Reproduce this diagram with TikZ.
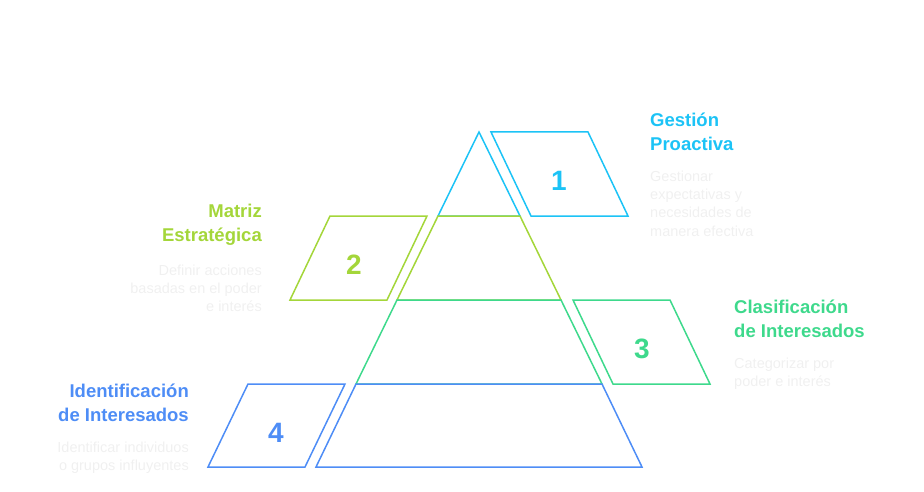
\documentclass[tikz,border=0pt]{standalone}
\usepackage{fontspec}
\setmainfont{Liberation Sans}
\definecolor{cA}{HTML}{1CC3F6}
\definecolor{cB}{HTML}{A4D63A}
\definecolor{cC}{HTML}{3ED98C}
\definecolor{cD}{HTML}{4E8DF6}
\definecolor{cdesc}{HTML}{F0F0F0}
\tikzset{
  seg/.style={line width=1.5pt, line join=miter},
  ttl/.style={inner sep=0pt, font=\bfseries\fontsize{18.5}{24}\selectfont},
  dsc/.style={inner sep=0pt, text=cdesc, font=\fontsize{14.5}{18}\selectfont},
  num/.style={inner sep=0pt, font=\bfseries\fontsize{28}{30}\selectfont},
}
\begin{document}
\begin{tikzpicture}[x=1pt,y=-1pt]
\useasboundingbox (0,0) rectangle (924,492);
% pyramid
\draw[seg,cA] (479,132) -- (520,216) -- (438,216) -- cycle;
\draw[seg,cB] (438,216) -- (520,216) -- (561,300) -- (397,300) -- cycle;
\draw[seg,cC] (397,300) -- (561,300) -- (602,384) -- (356,384) -- cycle;
\draw[seg,cD] (356,384) -- (602,384) -- (642,467) -- (316,467) -- cycle;
% parallelograms
\draw[seg,cA] (491,132) -- (588,132) -- (628,216) -- (531,216) -- cycle;
\draw[seg,cB] (330,216) -- (427,216) -- (387,300) -- (290,300) -- cycle;
\draw[seg,cC] (573,300) -- (670,300) -- (710,384) -- (613,384) -- cycle;
\draw[seg,cD] (248,384) -- (345,384) -- (305,467) -- (208,467) -- cycle;
% numbers
\node[num,text=cA] (n1) at (559,181) {1};
\node[num,text=cB] (n2) at (354,265) {2};
\node[num,text=cC] (n3) at (642,349) {3};
\node[num,text=cD] (n4) at (276,433) {4};
% 1
\node[ttl,text=cA,anchor=base west] (t1a) at (650,127) {Gestión};
\node[ttl,text=cA,anchor=base west] (t1b) at (650,151) {Proactiva};
\node[dsc,anchor=base west] (d1a) at (650,182) {Gestionar};
\node[dsc,anchor=base west] (d1b) at (650,200) {expectativas y};
\node[dsc,anchor=base west] (d1c) at (650,218) {necesidades de};
\node[dsc,anchor=base west] (d1d) at (650,236) {manera efectiva};
% 2
\node[ttl,text=cB,anchor=base east] (t2a) at (262,217) {Matriz};
\node[ttl,text=cB,anchor=base east] (t2b) at (262,241) {Estratégica};
\node[dsc,anchor=base east] (d2a) at (262,275) {Definir acciones};
\node[dsc,anchor=base east] (d2b) at (262,293) {basadas en el poder};
\node[dsc,anchor=base east] (d2c) at (262,311) {e interés};
% 3
\node[ttl,text=cC,anchor=base west] (t3a) at (734,313) {Clasificación};
\node[ttl,text=cC,anchor=base west] (t3b) at (734,337) {de Interesados};
\node[dsc,anchor=base west] (d3a) at (734,368) {Categorizar por};
\node[dsc,anchor=base west] (d3b) at (734,386) {poder e interés};
% 4
\node[ttl,text=cD,anchor=base east] (t4a) at (189,397) {Identificación};
\node[ttl,text=cD,anchor=base east] (t4b) at (189,421) {de Interesados};
\node[dsc,anchor=base east] (d4a) at (189,452) {Identificar individuos};
\node[dsc,anchor=base east] (d4b) at (189,470) {o grupos influyentes};
\end{tikzpicture}
\end{document}
